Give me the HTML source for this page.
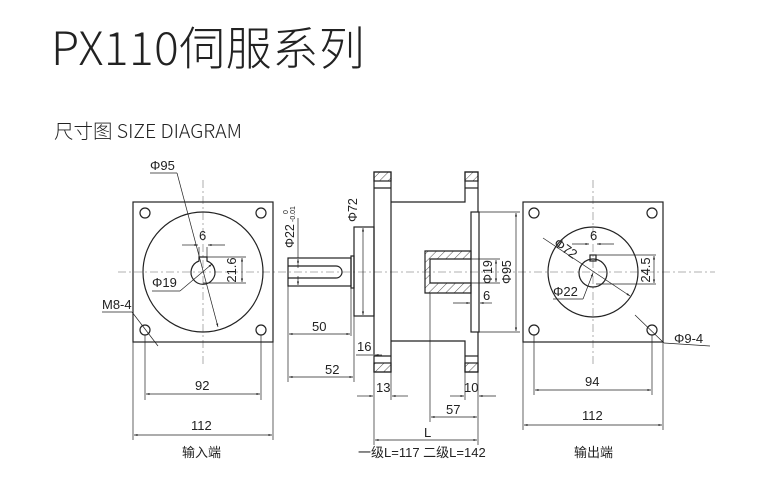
<!DOCTYPE html>
<html><head><meta charset="utf-8"><style>
html,body{margin:0;padding:0;background:#fff;}
svg{display:block}
text{font-family:"Liberation Sans","Noto Sans CJK SC",sans-serif;fill:#222}
</style></head><body>
<svg width="780" height="504" viewBox="0 0 780 504" xmlns="http://www.w3.org/2000/svg">
<defs>
<pattern id="h" width="6" height="6" patternUnits="userSpaceOnUse" patternTransform="rotate(45)"><line x1="0" y1="0" x2="0" y2="6" stroke="#222" stroke-width="0.8"/></pattern>
<marker id="a" viewBox="0 0 10 10" refX="10" refY="5" markerWidth="7" markerHeight="5" orient="auto-start-reverse"><path d="M0,2 L10,5 L0,8z" fill="#222"/></marker>
</defs>
<text x="51" y="65" font-size="46" letter-spacing="0.5" style="font-family:'Noto Sans CJK SC',sans-serif;font-weight:300">PX110伺服系列</text>
<text x="54" y="138" font-size="19.5" style="font-family:'Noto Sans CJK SC',sans-serif;font-weight:300">尺寸图 SIZE DIAGRAM</text>

<g stroke="#999" stroke-width="0.8" stroke-dasharray="8,3,2,3" fill="none">
<line x1="118" y1="272" x2="715" y2="272"/>
<line x1="203" y1="180" x2="203" y2="365"/>
<line x1="593" y1="180" x2="593" y2="365"/>
</g>

<g stroke="#222" stroke-width="1.2" fill="none">
<rect x="133" y="202" width="140" height="140"/>
<circle cx="203" cy="272" r="60"/>
<circle cx="145" cy="213" r="5"/><circle cx="261" cy="213" r="5"/>
<circle cx="145" cy="330" r="5"/><circle cx="261" cy="330" r="5"/>
<path d="M199,261 A12,12 0 1 0 207,261 L207,257 L199,257 Z"/>
</g>
<g stroke="#222" stroke-width="0.7" fill="none">
<line x1="150" y1="173" x2="177" y2="173"/>
<line x1="177" y1="173" x2="218" y2="327" marker-end="url(#a)"/>
<line x1="182" y1="245" x2="198" y2="245" marker-end="url(#a)"/>
<line x1="225" y1="245" x2="208" y2="245" marker-end="url(#a)"/>
<line x1="199" y1="247" x2="199" y2="258"/><line x1="207" y1="247" x2="207" y2="258"/>
<line x1="207" y1="257" x2="246" y2="257"/><line x1="203" y1="283" x2="246" y2="283"/>
<line x1="242" y1="258" x2="242" y2="282" marker-start="url(#a)" marker-end="url(#a)"/>
<line x1="152" y1="291" x2="180" y2="291"/><line x1="180" y1="291" x2="212" y2="264" marker-end="url(#a)"/>
<line x1="102" y1="312" x2="132" y2="312"/><line x1="132" y1="312" x2="158" y2="346"/>
<line x1="145" y1="335" x2="145" y2="400"/><line x1="261" y1="335" x2="261" y2="400"/>
<line x1="146" y1="394" x2="260" y2="394" marker-start="url(#a)" marker-end="url(#a)"/>
<line x1="133" y1="342" x2="133" y2="440"/><line x1="273" y1="342" x2="273" y2="440"/>
<line x1="134" y1="435" x2="272" y2="435" marker-start="url(#a)" marker-end="url(#a)"/>
</g>
<text x="150" y="170" font-size="13">Φ95</text>
<text x="199" y="240" font-size="13">6</text>
<text x="236" y="270" font-size="13" transform="rotate(-90 236 270)" text-anchor="middle">21.6</text>
<text x="152" y="287" font-size="13">Φ19</text>
<text x="102" y="309" font-size="13">M8-4</text>
<text x="195" y="390" font-size="13">92</text>
<text x="191" y="430" font-size="13">112</text>
<text x="182" y="457" font-size="13">输入端</text>

<g stroke="#222" stroke-width="1.2" fill="none">
<rect x="288" y="258" width="63" height="28"/>
<path d="M288,266 H336 A3,3 0 0 1 336,278 H288"/>
<rect x="351" y="256" width="3" height="32"/>
<rect x="354" y="227" width="20" height="89"/>
<rect x="374" y="172" width="17" height="200"/>
<rect x="374" y="172" width="17" height="9" fill="url(#h)"/>
<rect x="374" y="363" width="17" height="9" fill="url(#h)"/>
<line x1="374" y1="188" x2="391" y2="188"/><line x1="374" y1="356" x2="391" y2="356"/>
<path d="M391,202 H465 V172 H478 V212 M478,332 V372 H465 V341 H391"/>
<rect x="465" y="172" width="13" height="9" fill="url(#h)"/>
<rect x="465" y="363" width="13" height="9" fill="url(#h)"/>
<line x1="465" y1="188" x2="478" y2="188"/><line x1="465" y1="356" x2="478" y2="356"/>
<rect x="471" y="212" width="8" height="120"/>
<path d="M471,251 H425 V293 H471 V283 H430 V259 H471 Z" fill="url(#h)"/>
</g>
<g stroke="#222" stroke-width="0.7" fill="none">
<line x1="298" y1="218" x2="298" y2="258"/>
<line x1="298" y1="268" x2="298" y2="259" marker-end="url(#a)"/>
<line x1="298" y1="276" x2="298" y2="285" marker-end="url(#a)"/>
<line x1="363" y1="228" x2="363" y2="315" marker-start="url(#a)" marker-end="url(#a)"/>
<line x1="288" y1="286" x2="288" y2="382"/>
<line x1="351" y1="288" x2="351" y2="336"/>
<line x1="354" y1="316" x2="354" y2="382"/>
<line x1="289" y1="334" x2="350" y2="334" marker-start="url(#a)" marker-end="url(#a)"/>
<line x1="289" y1="377" x2="353" y2="377" marker-start="url(#a)" marker-end="url(#a)"/>
<line x1="356" y1="355" x2="373" y2="355"/><line x1="382" y1="355" x2="375" y2="355" marker-end="url(#a)"/>
<line x1="374" y1="372" x2="374" y2="445"/><line x1="391" y1="372" x2="391" y2="400"/>
<line x1="357" y1="396" x2="373" y2="396" marker-end="url(#a)"/>
<line x1="408" y1="396" x2="392" y2="396" marker-end="url(#a)"/>
<line x1="465" y1="372" x2="465" y2="400"/><line x1="478" y1="372" x2="478" y2="445"/>
<line x1="450" y1="396" x2="464" y2="396" marker-end="url(#a)"/>
<line x1="496" y1="396" x2="479" y2="396" marker-end="url(#a)"/>
<line x1="430" y1="293" x2="430" y2="422"/>
<line x1="431" y1="417" x2="477" y2="417" marker-start="url(#a)" marker-end="url(#a)"/>
<line x1="375" y1="440" x2="477" y2="440" marker-start="url(#a)" marker-end="url(#a)"/>
<line x1="430" y1="259" x2="500" y2="259"/><line x1="430" y1="283" x2="500" y2="283"/>
<line x1="496" y1="260" x2="496" y2="282" marker-start="url(#a)" marker-end="url(#a)"/>
<line x1="479" y1="212" x2="520" y2="212"/><line x1="479" y1="332" x2="520" y2="332"/>
<line x1="516" y1="213" x2="516" y2="331" marker-start="url(#a)" marker-end="url(#a)"/>
<line x1="453" y1="303" x2="470" y2="303" marker-end="url(#a)"/>
<line x1="492" y1="303" x2="480" y2="303" marker-end="url(#a)"/>
</g>
<text x="294" y="248" font-size="12.5" transform="rotate(-90 294 248)">Φ22</text>
<text x="288" y="214" font-size="7" transform="rotate(-90 288 214)">0</text>
<text x="295" y="222" font-size="7" transform="rotate(-90 295 222)">-0.01</text>
<text x="357" y="222" font-size="12.5" transform="rotate(-90 357 222)">Φ72</text>
<text x="312" y="331" font-size="13">50</text>
<text x="325" y="374" font-size="13">52</text>
<text x="357" y="351" font-size="13">16</text>
<text x="376" y="392" font-size="13">13</text>
<text x="464" y="392" font-size="13">10</text>
<text x="446" y="414" font-size="13">57</text>
<text x="424" y="437" font-size="13">L</text>
<text x="358" y="457" font-size="13">一级L=117 二级L=142</text>
<text x="492" y="284" font-size="12.5" transform="rotate(-90 492 284)">Φ19</text>
<text x="511" y="284" font-size="12.5" transform="rotate(-90 511 284)">Φ95</text>
<text x="483" y="300" font-size="13">6</text>

<g stroke="#222" stroke-width="1.2" fill="none">
<rect x="523" y="202" width="140" height="140"/>
<circle cx="593" cy="272" r="45"/>
<circle cx="593" cy="273" r="14"/>
<rect x="590" y="255" width="6" height="6"/>
<circle cx="534" cy="213" r="5"/><circle cx="652" cy="213" r="5"/>
<circle cx="534" cy="330" r="5"/><circle cx="652" cy="330" r="5"/>
</g>
<g stroke="#222" stroke-width="0.7" fill="none">
<line x1="543" y1="238" x2="630" y2="296" marker-end="url(#a)"/>
<line x1="572" y1="244" x2="589" y2="244" marker-end="url(#a)"/>
<line x1="614" y1="244" x2="597" y2="244" marker-end="url(#a)"/>
<line x1="596" y1="255" x2="656" y2="255"/><line x1="596" y1="284" x2="656" y2="284"/>
<line x1="654" y1="256" x2="654" y2="283" marker-start="url(#a)" marker-end="url(#a)"/>
<line x1="553" y1="299" x2="583" y2="299"/><line x1="583" y1="299" x2="593" y2="273" marker-end="url(#a)"/>
<line x1="635" y1="315" x2="664" y2="343"/><line x1="664" y1="343" x2="710" y2="346"/>
<line x1="534" y1="335" x2="534" y2="395"/><line x1="652" y1="335" x2="652" y2="395"/>
<line x1="535" y1="390" x2="651" y2="390" marker-start="url(#a)" marker-end="url(#a)"/>
<line x1="523" y1="342" x2="523" y2="430"/><line x1="663" y1="342" x2="663" y2="430"/>
<line x1="524" y1="425" x2="662" y2="425" marker-start="url(#a)" marker-end="url(#a)"/>
</g>
<text x="553" y="245" font-size="13" transform="rotate(35 553 245)">Φ72</text>
<text x="590" y="240" font-size="13">6</text>
<text x="650" y="270" font-size="13" transform="rotate(-90 650 270)" text-anchor="middle">24.5</text>
<text x="553" y="296" font-size="13">Φ22</text>
<text x="674" y="343" font-size="13">Φ9-4</text>
<text x="585" y="386" font-size="13">94</text>
<text x="582" y="420" font-size="13">112</text>
<text x="574" y="457" font-size="13">输出端</text>
</svg>
</body></html>
